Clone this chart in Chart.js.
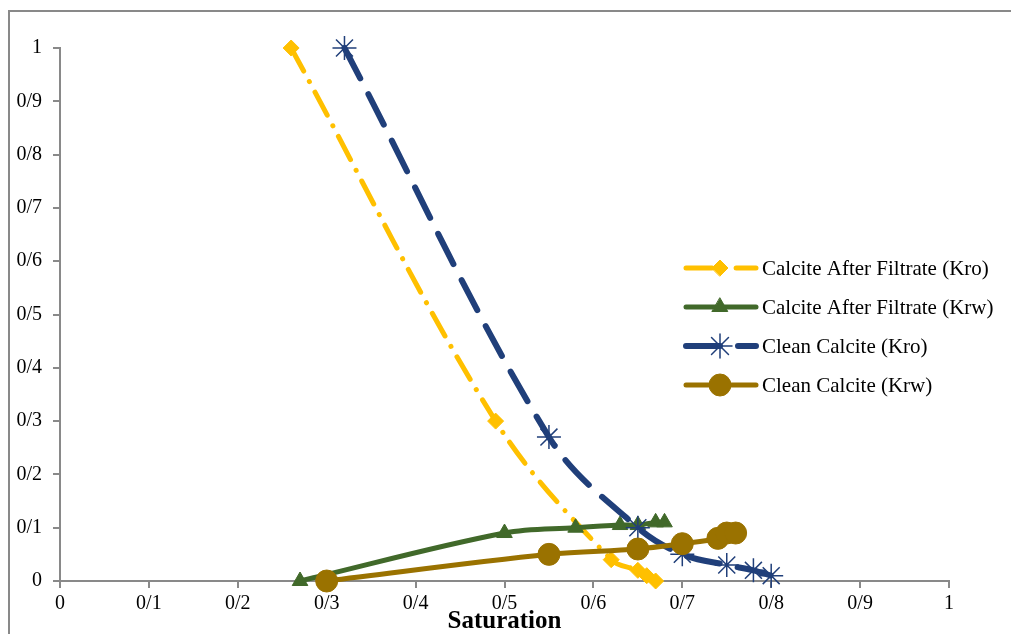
<!DOCTYPE html>
<html>
<head>
<meta charset="utf-8">
<script src="https://cdn.jsdelivr.net/npm/chart.js@4"></script>
<style>
  html, body { margin: 0; padding: 0; background: #fff; }
  #wrap { width: 1011px; height: 634px; position: relative; }
</style>
</head>
<body>
<div id="wrap"><canvas id="relperm"></canvas></div>
<script>
// Relative permeability curves
const afterKroSw = [0.26, 0.49, 0.62, 0.65, 0.66, 0.67];
const afterKro   = [1, 0.3, 0.04, 0.02, 0.01, 0];

const afterKrwSw = [0.27, 0.5, 0.58, 0.63, 0.65, 0.67, 0.68];
const afterKrw   = [0, 0.09, 0.1, 0.105, 0.105, 0.11, 0.11];

const cleanKroSw = [0.32, 0.55, 0.65, 0.7, 0.75, 0.78, 0.8];
const cleanKro   = [1, 0.27, 0.1, 0.05, 0.03, 0.02, 0.01];

const cleanKrwSw = [0.3, 0.55, 0.65, 0.7, 0.74, 0.75, 0.76];
const cleanKrw   = [0, 0.05, 0.06, 0.07, 0.08, 0.09, 0.09];

const tickLabels = ['0', '0/1', '0/2', '0/3', '0/4', '0/5', '0/6', '0/7', '0/8', '0/9', '1'];
const seriesNames = [
    'Calcite After Filtrate (Kro)',
    'Calcite After Filtrate (Krw)',
    'Clean Calcite (Kro)',
    'Clean Calcite (Krw)'
];

const axisGrey = '#898989';
const serif = "'Liberation Serif', 'Times New Roman', serif";

function toPoints(xs, ys) {
    return xs.map((x, i) => ({ x: x, y: ys[i] }));
}

// Outer frame around the chart
const framePlugin = {
    id: 'frame',
    beforeDraw(chart) {
        const ctx = chart.ctx;
        ctx.save();
        ctx.strokeStyle = axisGrey;
        ctx.lineWidth = 2;
        ctx.strokeRect(9, 11, 1100, 700);
        ctx.restore();
    }
};

// Excel style legend: line sample with marker in the middle
const legendPlugin = {
    id: 'sideLegend',
    afterDraw(chart) {
        const ctx = chart.ctx;
        const rows = [268, 307, 346, 385];
        chart.data.datasets.forEach((ds, i) => {
            const y = rows[i];
            ctx.save();
            ctx.strokeStyle = ds.borderColor;
            ctx.lineWidth = ds.borderWidth;
            ctx.lineCap = 'round';
            ctx.setLineDash(ds.borderDash || []);
            ctx.beginPath();
            ctx.moveTo(686, y);
            ctx.lineTo(756, y);
            ctx.stroke();
            ctx.setLineDash([]);
            ctx.fillStyle = ds.pointBackgroundColor;
            ctx.strokeStyle = ds.pointBorderColor;
            ctx.lineWidth = ds.pointBorderWidth;
            Chart.helpers.drawPoint(ctx, {
                pointStyle: ds.pointStyle,
                radius: ds.pointRadius,
                rotation: 0,
                borderWidth: ds.pointBorderWidth
            }, 720, y);
            ctx.fillStyle = '#000';
            ctx.font = '21px ' + serif;
            ctx.textBaseline = 'middle';
            ctx.fillText(seriesNames[i], 762, y + 1);
            ctx.restore();
        });
    }
};

const ctx = document.getElementById('relperm');

new Chart(ctx, {
    type: 'scatter',
    data: {
        datasets: [{
            label: seriesNames[0],
            data: toPoints(afterKroSw, afterKro),
            showLine: true,
            clip: false,
            tension: 0.35,
            borderColor: '#FFC000',
            borderWidth: 5,
            borderDash: [26, 12, 0.1, 12],
            borderCapStyle: 'round',
            pointStyle: 'rectRot',
            pointRadius: 8,
            pointBackgroundColor: '#FFC000',
            pointBorderColor: '#FFC000',
            pointBorderWidth: 1,
            order: 4
        }, {
            label: seriesNames[1],
            data: toPoints(afterKrwSw, afterKrw),
            showLine: true,
            clip: false,
            tension: 0.35,
            borderColor: '#41692A',
            borderWidth: 5,
            borderCapStyle: 'round',
            pointStyle: 'triangle',
            pointRadius: 9,
            pointBackgroundColor: '#41692A',
            pointBorderColor: '#41692A',
            pointBorderWidth: 1,
            order: 3
        }, {
            label: seriesNames[2],
            data: toPoints(cleanKroSw, cleanKro),
            showLine: true,
            clip: false,
            tension: 0.35,
            borderColor: '#203F7A',
            borderWidth: 6,
            borderDash: [34, 18],
            borderCapStyle: 'round',
            pointStyle: 'star',
            pointRadius: 12,
            pointBackgroundColor: '#203F7A',
            pointBorderColor: '#203F7A',
            pointBorderWidth: 1.5,
            order: 2
        }, {
            label: seriesNames[3],
            data: toPoints(cleanKrwSw, cleanKrw),
            showLine: true,
            clip: false,
            tension: 0.35,
            borderColor: '#9A7200',
            borderWidth: 5,
            borderCapStyle: 'round',
            pointStyle: 'circle',
            pointRadius: 11,
            pointBackgroundColor: '#9A7200',
            pointBorderColor: '#9A7200',
            pointBorderWidth: 1,
            order: 1
        }]
    },
    options: {
        responsive: true,
        maintainAspectRatio: false,
        animation: false,
        layout: { padding: { top: 48, right: 62, left: 0, bottom: 0 } },
        plugins: {
            legend: { display: false },
            tooltip: { enabled: false }
        },
        scales: {
            x: {
                type: 'linear',
                min: 0,
                max: 1,
                afterFit: scale => { scale.height = 53; },
                border: { color: axisGrey, width: 2 },
                grid: { drawOnChartArea: false, drawTicks: true, tickLength: 7, color: axisGrey, lineWidth: 2 },
                ticks: {
                    stepSize: 0.1,
                    padding: 4,
                    color: '#000',
                    maxRotation: 0,
                    font: { family: serif, size: 20 },
                    callback: v => tickLabels[Math.round(v * 10)]
                },
                title: {
                    display: true,
                    text: 'Saturation',
                    color: '#000',
                    padding: { top: 0, bottom: 0 },
                    font: { family: serif, size: 25, weight: 'bold', lineHeight: 1 }
                }
            },
            y: {
                type: 'linear',
                min: 0,
                max: 1,
                afterFit: scale => { scale.width = 60; },
                border: { color: axisGrey, width: 2 },
                grid: { drawOnChartArea: false, drawTicks: true, tickLength: 7, color: axisGrey, lineWidth: 2 },
                ticks: {
                    stepSize: 0.1,
                    padding: 11,
                    color: '#000',
                    font: { family: serif, size: 20 },
                    callback: v => tickLabels[Math.round(v * 10)]
                }
            }
        }
    },
    plugins: [framePlugin, legendPlugin]
});
</script>
</body>
</html>
